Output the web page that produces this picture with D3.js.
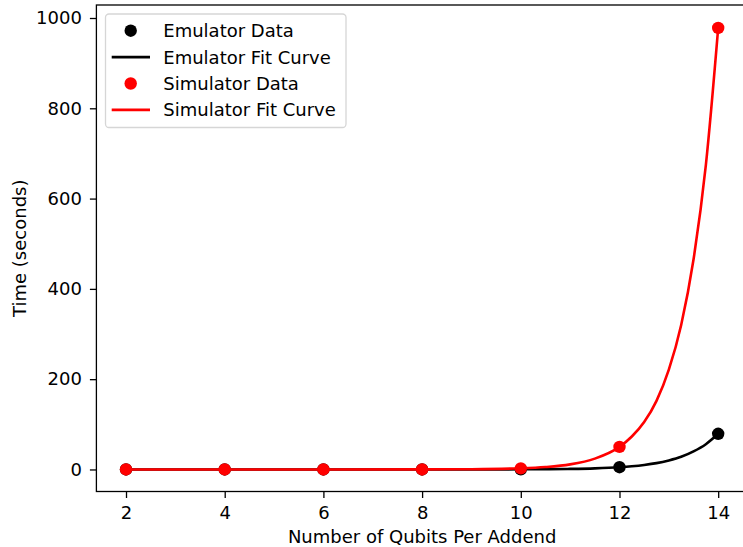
<!DOCTYPE html>
<html lang="en">
<head>
    <meta charset="utf-8" />
    <title>Qubit timing</title>
    <script src="https://cdnjs.cloudflare.com/ajax/libs/d3/7.8.5/d3.min.js"></script>
    <style>
        body { margin: 0; background: #fff; }
        svg { display: block; font-family: "DejaVu Sans", sans-serif; }
    </style>
</head>
<body>
    <div id="vis"></div>
    <script type="text/javascript">
        // measured data points
        var qubits = [2, 4, 6, 8, 10, 12, 14];
        var emulatorTimes = [0, 0, 0, 0, 0.3, 5, 79];
        var simulatorTimes = [0, 0, 0, 0, 2.5, 50, 978];

        // fit curves
        var fitX = [2, 4, 6, 8, 9, 10, 10.5, 11, 11.5, 12, 12.25, 12.5, 12.75, 13, 13.25, 13.5, 13.75, 14];
        var emulatorFit = [0, 0, 0, 0.02, 0.08, 0.32, 0.63, 1.26, 2.5, 5, 7.1, 10, 14, 20, 28, 40, 56, 79];
        var simulatorFit = [0, 0, 0, 0.13, 0.6, 2.6, 5.4, 11.3, 24, 50, 73, 105, 152, 221, 320, 465, 674, 978];

        var xTicks = [2, 4, 6, 8, 10, 12, 14];
        var yTicks = [0, 200, 400, 600, 800, 1000];

        var width = 743, height = 547;
        var plotLeft = 96.4, plotRight = 747.8, plotTop = 5, plotBottom = 491.5;
        var fontSize = 18;

        var svg = d3.select("#vis").append("svg")
            .attr("width", width)
            .attr("height", height);

        var x = d3.scaleLinear().domain([1.4, 14.6]).range([plotLeft, plotRight]);
        var y = d3.scaleLinear().domain([-48.8, 1028.8]).range([plotBottom, plotTop]);

        svg.append("clipPath").attr("id", "plotArea")
            .append("rect")
            .attr("x", plotLeft).attr("y", plotTop)
            .attr("width", plotRight - plotLeft).attr("height", plotBottom - plotTop);

        var plot = svg.append("g").attr("clip-path", "url(#plotArea)");

        function series(xs, ys) {
            return xs.map(function (d, i) { return { x: d, y: ys[i] }; });
        }

        var line = d3.line()
            .x(function (d) { return x(d.x); })
            .y(function (d) { return y(d.y); })
            .curve(d3.curveMonotoneX);

        function drawLine(data, color) {
            plot.append("path")
                .datum(data)
                .attr("d", line)
                .attr("fill", "none")
                .attr("stroke", color)
                .attr("stroke-width", 2.6)
                .attr("stroke-linejoin", "round");
        }

        function drawDots(data, color) {
            plot.append("g").selectAll("circle")
                .data(data)
                .enter()
                .append("circle")
                .attr("cx", function (d) { return x(d.x); })
                .attr("cy", function (d) { return y(d.y); })
                .attr("r", 6.2)
                .attr("fill", color);
        }

        drawLine(series(fitX, emulatorFit), "#000");
        drawDots(series(qubits, emulatorTimes), "#000");
        drawLine(series(fitX, simulatorFit), "#ff0000");
        drawDots(series(qubits, simulatorTimes), "#ff0000");

        // axes
        var xAxis = svg.append("g")
            .attr("transform", "translate(0," + plotBottom + ")")
            .call(d3.axisBottom(x).tickValues(xTicks).tickFormat(d3.format("d"))
                .tickSizeOuter(0).tickSize(6.5).tickPadding(8));
        var yAxis = svg.append("g")
            .attr("transform", "translate(" + plotLeft + ",0)")
            .call(d3.axisLeft(y).tickValues(yTicks).tickFormat(d3.format("d"))
                .tickSizeOuter(0).tickSize(6.5).tickPadding(8));

        [xAxis, yAxis].forEach(function (ax) {
            ax.select(".domain").remove();
            ax.selectAll(".tick line").attr("stroke", "#000").attr("stroke-width", 1.3);
            ax.selectAll(".tick text")
                .attr("fill", "#000")
                .style("font-size", fontSize + "px")
                .style("font-family", "DejaVu Sans");
        });

        // spines
        svg.append("rect")
            .attr("x", plotLeft).attr("y", plotTop)
            .attr("width", plotRight - plotLeft).attr("height", plotBottom - plotTop)
            .attr("fill", "none")
            .attr("stroke", "#000")
            .attr("stroke-width", 1.3);

        // axis labels
        svg.append("text")
            .attr("x", (plotLeft + plotRight) / 2)
            .attr("y", 543)
            .attr("text-anchor", "middle")
            .style("font-size", fontSize + "px")
            .text("Number of Qubits Per Addend");

        svg.append("text")
            .attr("transform", "translate(26," + ((plotTop + plotBottom) / 2) + ") rotate(-90)")
            .attr("text-anchor", "middle")
            .style("font-size", fontSize + "px")
            .text("Time (seconds)");

        // legend
        var legendItems = [
            { label: "Emulator Data", color: "#000", kind: "dot" },
            { label: "Emulator Fit Curve", color: "#000", kind: "line" },
            { label: "Simulator Data", color: "#ff0000", kind: "dot" },
            { label: "Simulator Fit Curve", color: "#ff0000", kind: "line" }
        ];

        var legend = svg.append("g");
        legend.append("rect")
            .attr("x", 105.5).attr("y", 14)
            .attr("width", 240.5).attr("height", 113.5)
            .attr("rx", 3.5)
            .attr("fill", "#fff")
            .attr("fill-opacity", 0.8)
            .attr("stroke", "#d6d6d6")
            .attr("stroke-width", 1.3);

        var rows = legend.selectAll("g.item")
            .data(legendItems)
            .enter()
            .append("g")
            .attr("class", "item")
            .attr("transform", function (d, i) { return "translate(0," + (30.7 + i * 26.4) + ")"; });

        rows.filter(function (d) { return d.kind === "dot"; })
            .append("circle")
            .attr("cx", 130.7).attr("cy", 0).attr("r", 6.2)
            .attr("fill", function (d) { return d.color; });

        rows.filter(function (d) { return d.kind === "line"; })
            .append("line")
            .attr("x1", 111.7).attr("x2", 150)
            .attr("y1", 0).attr("y2", 0)
            .attr("stroke", function (d) { return d.color; })
            .attr("stroke-width", 2.6);

        rows.append("text")
            .attr("x", 163.3)
            .attr("y", 0)
            .attr("dy", "0.36em")
            .style("font-size", fontSize + "px")
            .text(function (d) { return d.label; });
    </script>
</body>
</html>
